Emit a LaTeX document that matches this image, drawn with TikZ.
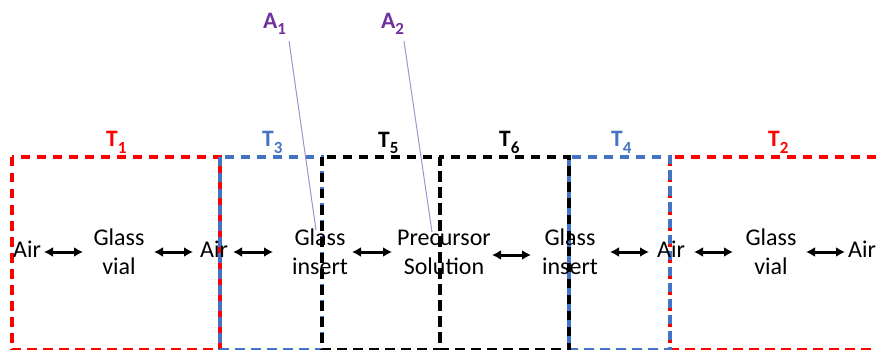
\documentclass[tikz,border=0pt]{standalone}
\usepackage{fontspec}
\setmainfont{Carlito}
\usetikzlibrary{arrows.meta}
\definecolor{tred}{HTML}{FF0000}
\definecolor{tblue}{HTML}{4472C4}
\definecolor{tpurple}{HTML}{7030A0}
\definecolor{tline}{HTML}{A88FD0}
\newcommand\tsub[1]{\raisebox{-6pt}{\fontsize{17}{17}\selectfont #1}}
\begin{document}
\begin{tikzpicture}[x=1pt,y=-1pt,
  box/.style={line width=3.2pt, dash pattern=on 9.5pt off 6.5pt},
  lbl/.style={font=\fontsize{24}{29}\selectfont, align=center, inner sep=1pt},
  tl/.style={font=\fontsize{23.5}{26}\selectfont\bfseries, anchor=base west, inner sep=0pt},
  dbl/.style={{Latex[length=9pt,width=10pt]}-{Latex[length=9pt,width=10pt]}, line width=3pt},
  lead/.style={draw=tline, line width=1pt}]
\useasboundingbox (0,0) rectangle (876,350);
\clip (0,0) rectangle (876,350);
% boxes
\draw[box, tred] (12,157) rectangle (220,350);
\draw[box, tred] (670,157) rectangle (900,350);
\draw[box, tblue] (220,157) rectangle (322,350);
\draw[box, tblue] (569,157) rectangle (670,350);
\draw[box, black] (322,157) rectangle (440,350);
\draw[box, black] (440,157) rectangle (569,350);
% box labels
\node[tl, text=tred]  (t1) at (106,147) {T\tsub{1}};
\node[tl, text=tblue] (t3) at (262,147) {T\tsub{3}};
\node[tl, text=black] (t5) at (378,148) {T\tsub{5}};
\node[tl, text=black] (t6) at (499,147) {T\tsub{6}};
\node[tl, text=tblue] (t4) at (611,147) {T\tsub{4}};
\node[tl, text=tred]  (t2) at (768,147) {T\tsub{2}};
% A labels and leader lines
\node[tl, text=tpurple] (a1) at (263,29) {A\tsub{1}};
\node[tl, text=tpurple] (a2) at (381,29) {A\tsub{2}};
\coordinate (a1s) at (289,41);
\coordinate (a1e) at (316,230);
\coordinate (a2s) at (404,41);
\coordinate (a2e) at (432,232);
\draw[lead] (a1s) -- (a1e);
\draw[lead] (a2s) -- (a2e);
% text nodes
\node[lbl, anchor=base] (air1) at (27,257) {Air};
\node[lbl] (vial1) at (119,252) {Glass\\vial};
\node[lbl, anchor=base] (air2) at (214,257) {Air};
\node[lbl] (ins1) at (320,252) {Glass\\insert};
\node[lbl] (prec) at (444,252) {Precursor\\Solution};
\node[lbl] (ins2) at (570,252) {Glass\\insert};
\node[lbl, anchor=base] (air3) at (671,257) {Air};
\node[lbl] (vial2) at (771,252) {Glass\\vial};
\node[lbl, anchor=base] (air4) at (862,257) {Air};
% arrow ends
\coordinate (e1a) at (44,252);  \coordinate (e1b) at (83,252);
\coordinate (e2a) at (154,252); \coordinate (e2b) at (193,252);
\coordinate (e3a) at (233,252); \coordinate (e3b) at (273,252);
\coordinate (e4a) at (352,252); \coordinate (e4b) at (392,252);
\coordinate (e5a) at (492,255); \coordinate (e5b) at (531,255);
\coordinate (e6a) at (610,252); \coordinate (e6b) at (649,252);
\coordinate (e7a) at (694,252); \coordinate (e7b) at (733,252);
\coordinate (e8a) at (806,252); \coordinate (e8b) at (845,252);
\draw[dbl] (e1a) -- (e1b);
\draw[dbl] (e2a) -- (e2b);
\draw[dbl] (e3a) -- (e3b);
\draw[dbl] (e4a) -- (e4b);
\draw[dbl] (e5a) -- (e5b);
\draw[dbl] (e6a) -- (e6b);
\draw[dbl] (e7a) -- (e7b);
\draw[dbl] (e8a) -- (e8b);
\end{tikzpicture}
\end{document}
